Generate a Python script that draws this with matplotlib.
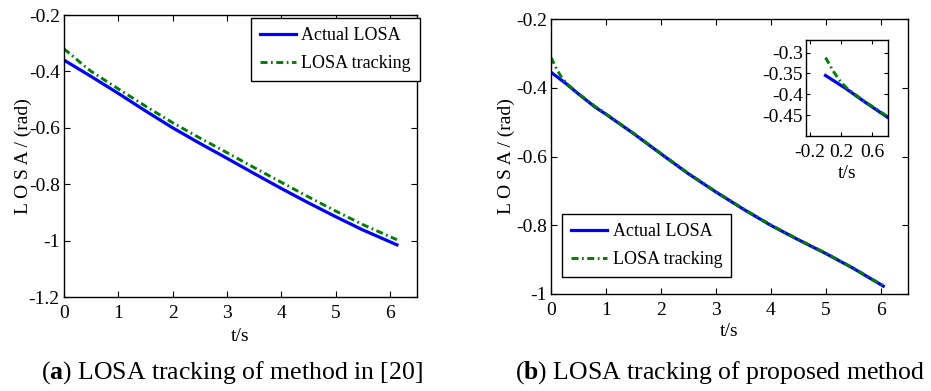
import numpy as np
import matplotlib
matplotlib.use("Agg")
import matplotlib.pyplot as plt

plt.rcParams['font.family'] = ['Liberation Serif', 'DejaVu Serif']
plt.rcParams['mathtext.fontset'] = 'custom'
plt.rcParams['mathtext.rm'] = 'Liberation Serif'
plt.rcParams['mathtext.bf'] = 'Liberation Serif:bold'

# ---- data: panel (a) method in [20]
t_a_actual = [0, 0.5, 1, 1.5, 2, 2.5, 3, 3.5, 4, 4.5, 5, 5.5, 6.13]
y_a_actual = [-0.36, -0.418, -0.478, -0.54, -0.60, -0.655, -0.708, -0.762, -0.815, -0.866, -0.915, -0.962, -1.015]
t_a_track = [0, 0.2, 0.4, 0.5, 1, 1.5, 2, 2.5, 3, 3.5, 4, 4.5, 5, 5.5, 6.13]
y_a_track = [-0.32, -0.352, -0.385, -0.40, -0.462, -0.523, -0.582, -0.636, -0.688, -0.741, -0.793, -0.845, -0.895, -0.943, -0.997]

# ---- data: panel (b) proposed method
t_b_actual = [0, 0.25, 0.5, 0.8, 1.0, 1.5, 2, 2.5, 3, 3.5, 4, 4.5, 5, 5.5, 6.05]
y_b_actual = [-0.355, -0.385, -0.418, -0.456, -0.477, -0.533, -0.592, -0.650, -0.703, -0.753, -0.800, -0.842, -0.882, -0.925, -0.977]
t_b_track = [0, 0.1, 0.2, 0.3, 0.5, 0.8, 1.0, 1.5, 2, 2.5, 3, 3.5, 4, 4.5, 5, 5.5, 6.05]
y_b_track = [-0.312, -0.345, -0.372, -0.39, -0.417, -0.454, -0.476, -0.532, -0.591, -0.649, -0.702, -0.752, -0.799, -0.841, -0.881, -0.924, -0.976]

labels = ['Actual LOSA', 'LOSA tracking']
xticks = [0, 1, 2, 3, 4, 5, 6]
yticks_a = [-1.2, -1, -0.8, -0.6, -0.4, -0.2]
yticks_b = [-1, -0.8, -0.6, -0.4, -0.2]
inset_xticks = [-0.2, 0.2, 0.6]
inset_yticks = [-0.45, -0.4, -0.35, -0.3]

BLUE = '#0000ff'
GREEN = '#008000'
FS = 14
LFS = 13
DASH = (2.4, 1.2, 0.6, 1.2)

W, H = 931, 391
fig = plt.figure(figsize=(W / 100, H / 100), dpi=100)


def fbox(x0, y0, x1, y1):
    return [x0 / W, 1 - y1 / H, (x1 - x0) / W, (y1 - y0) / H]


def style(ax):
    ax.tick_params(direction='in', top=True, right=True, length=4, width=0.8,
                   labelsize=FS, pad=3)
    for s in ax.spines.values():
        s.set_linewidth(1.0)


def fmt(v):
    return '%g' % v


def draw(ax, ta, ya, tt, yt, with_labels=True):
    ax.plot(ta, ya, color=BLUE, lw=2.3, label=labels[0] if with_labels else None)
    ax.plot(tt, yt, color=GREEN, lw=2.1, ls=(0, DASH),
            label=labels[1] if with_labels else None)


def legend(ax, loc, anchor):
    lg = ax.legend(loc=loc, bbox_to_anchor=(anchor[0] / W, 1 - anchor[1] / H),
                   bbox_transform=fig.transFigure, borderaxespad=0, fontsize=LFS,
                   fancybox=False, edgecolor='black', framealpha=1,
                   handlelength=2.0, handletextpad=0.3, borderpad=0.5,
                   labelspacing=0.6)
    lg.get_frame().set_linewidth(1.0)


# panel (a)
ax1 = fig.add_axes(fbox(64, 15, 417, 297))
draw(ax1, t_a_actual, y_a_actual, t_a_track, y_a_track)
ax1.set_xlim(0, 6.5)
ax1.set_ylim(-1.2, -0.2)
ax1.set_xticks(xticks)
ax1.set_yticks(yticks_a)
ax1.set_xticklabels([fmt(v) for v in xticks])
ax1.set_yticklabels([fmt(v) for v in yticks_a])
style(ax1)
ax1.tick_params(axis='x', pad=6)
ax1.set_xlabel('t/s', fontsize=FS, labelpad=4)
ax1.set_ylabel('L O S A / (rad)', fontsize=FS)
ax1.yaxis.set_label_coords(-0.092, 0.5)
legend(ax1, 'upper right', (420, 18))

# panel (b)
ax2 = fig.add_axes(fbox(551, 19, 908, 294))
draw(ax2, t_b_actual, y_b_actual, t_b_track, y_b_track)
ax2.set_xlim(0, 6.5)
ax2.set_ylim(-1.0, -0.2)
ax2.set_xticks(xticks)
ax2.set_yticks(yticks_b)
ax2.set_xticklabels([fmt(v) for v in xticks])
ax2.set_yticklabels([fmt(v) for v in yticks_b])
style(ax2)
ax2.tick_params(axis='x', pad=6)
ax2.set_xlabel('t/s', fontsize=FS, labelpad=3)
ax2.set_ylabel('L O S A / (rad)', fontsize=FS)
ax2.yaxis.set_label_coords(-0.10, 0.5)
legend(ax2, 'lower left', (562, 277))

# inset
ax3 = fig.add_axes(fbox(806, 40, 888, 136))
draw(ax3, t_b_actual, y_b_actual, t_b_track, y_b_track, with_labels=False)
ax3.set_xlim(-0.25, 0.8)
ax3.set_ylim(-0.5, -0.27)
ax3.set_xticks(inset_xticks)
ax3.set_yticks(inset_yticks)
ax3.set_xticklabels([fmt(v) for v in inset_xticks])
ax3.set_yticklabels([fmt(v) for v in inset_yticks])
style(ax3)
ax3.tick_params(length=3, pad=2)
ax3.tick_params(axis='x', pad=6)
ax3.set_xlabel('t/s', fontsize=FS, labelpad=3)

# captions
CFS = 18.5
fig.text(232 / W, 1 - 373 / H, r'($\mathbf{a}$) LOSA tracking of method in [20]',
         ha='center', va='center', fontsize=CFS)
fig.text(720 / W, 1 - 373 / H, r'($\mathbf{b}$) LOSA tracking of proposed method',
         ha='center', va='center', fontsize=CFS)

fig.savefig('out.png', dpi=100)
